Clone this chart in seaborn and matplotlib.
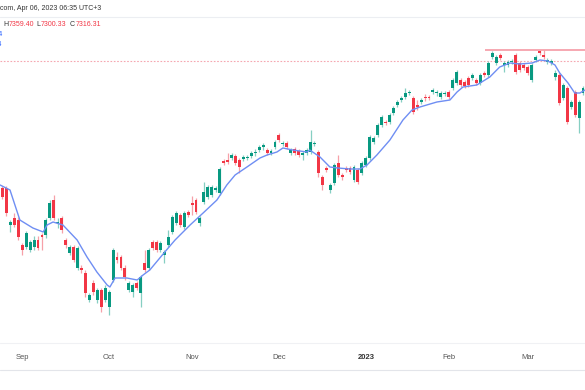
import numpy as np
import pandas as pd
import matplotlib
matplotlib.use('Agg')
import matplotlib.pyplot as plt
from matplotlib.lines import Line2D
import seaborn as sns

# daily candles, Aug 2022 - Mar 2023
opens = [7008, 7008, 6860, 6888, 6880, 6780, 6772, 6760, 6772, 6800,
         6820, 6820, 6888, 6960, 6868, 6888, 6800, 6748, 6772, 6688,
         6688, 6668, 6560, 6628, 6560, 6600, 6560, 6532, 6640, 6732,
         6732, 6688, 6600, 6592, 6628, 6588, 6708, 6688, 6792, 6792,
         6760, 6740, 6780, 6832, 6868, 6900, 6852, 6912, 6948, 6960,
         6868, 6952, 6972, 6980, 7000, 6988, 7116, 7120, 7128, 7136,
         7120, 7124, 7128, 7136, 7148, 7160, 7172, 7160, 7148, 7172,
         7220, 7184, 7188, 7148, 7164, 7156, 7140, 7148, 7152, 7184,
         7152, 7052, 7088, 7000, 7028, 7108, 7060, 7088, 7088, 7040,
         7080, 7068, 7100, 7128, 7192, 7220, 7260, 7272, 7272, 7308,
         7340, 7360, 7372, 7388, 7368, 7340, 7352, 7372, 7372, 7392,
         7388, 7372, 7384, 7392, 7408, 7428, 7440, 7432, 7448, 7448,
         7440, 7428, 7468, 7460, 7532, 7508, 7540, 7500, 7500, 7512,
         7540, 7508, 7500, 7492, 7440, 7520, 7556, 7540, 7512, 7508,
         7452, 7460, 7368, 7408, 7332, 7392, 7288, 7388]
highs = [7016, 7016, 6880, 6908, 6892, 6788, 6836, 6800, 6816, 6816,
         6828, 6888, 6960, 6980, 6888, 6896, 6808, 6780, 6780, 6776,
         6700, 6680, 6588, 6640, 6608, 6608, 6620, 6600, 6768, 6752,
         6740, 6700, 6636, 6628, 6636, 6660, 6760, 6768, 6800, 6800,
         6796, 6760, 6840, 6900, 6916, 6908, 6916, 6920, 6976, 6968,
         6896, 7032, 7020, 7020, 7016, 7092, 7124, 7148, 7148, 7144,
         7128, 7140, 7140, 7156, 7164, 7180, 7188, 7168, 7164, 7200,
         7228, 7196, 7196, 7168, 7172, 7164, 7156, 7168, 7240, 7196,
         7160, 7060, 7096, 7028, 7108, 7140, 7068, 7096, 7096, 7100,
         7088, 7116, 7136, 7220, 7216, 7268, 7300, 7280, 7308, 7336,
         7360, 7376, 7408, 7400, 7376, 7360, 7368, 7384, 7380, 7408,
         7400, 7396, 7396, 7400, 7448, 7480, 7448, 7440, 7456, 7468,
         7448, 7468, 7476, 7516, 7556, 7540, 7548, 7516, 7520, 7524,
         7548, 7516, 7508, 7500, 7508, 7540, 7560, 7560, 7528, 7524,
         7480, 7468, 7428, 7416, 7360, 7400, 7360, 7416]
lows = [6964, 6896, 6832, 6852, 6800, 6740, 6764, 6752, 6760, 6760,
        6760, 6808, 6880, 6880, 6848, 6828, 6768, 6740, 6712, 6680,
        6668, 6572, 6552, 6580, 6548, 6512, 6552, 6500, 6632, 6708,
        6680, 6640, 6592, 6572, 6600, 6532, 6672, 6680, 6760, 6752,
        6752, 6708, 6772, 6824, 6860, 6852, 6844, 6892, 6900, 6904,
        6856, 6944, 6964, 6972, 6992, 6980, 7100, 7104, 7120, 7100,
        7068, 7116, 7120, 7128, 7136, 7152, 7160, 7140, 7140, 7164,
        7192, 7176, 7164, 7140, 7140, 7132, 7120, 7140, 7144, 7176,
        7052, 7000, 7072, 6988, 7020, 7052, 7040, 7072, 7064, 7032,
        7024, 7060, 7092, 7120, 7184, 7212, 7252, 7260, 7264, 7300,
        7332, 7352, 7364, 7380, 7304, 7320, 7344, 7356, 7360, 7384,
        7376, 7364, 7376, 7364, 7400, 7420, 7412, 7408, 7412, 7440,
        7420, 7420, 7452, 7452, 7524, 7500, 7520, 7472, 7492, 7504,
        7464, 7472, 7480, 7460, 7432, 7512, 7540, 7524, 7504, 7500,
        7440, 7340, 7360, 7264, 7324, 7292, 7228, 7380]
closes = [6972, 6908, 6872, 6860, 6812, 6760, 6828, 6792, 6800, 6768,
          6812, 6880, 6948, 6888, 6872, 6840, 6780, 6772, 6720, 6768,
          6680, 6588, 6580, 6592, 6600, 6532, 6608, 6592, 6760, 6720,
          6688, 6652, 6628, 6620, 6608, 6652, 6680, 6760, 6768, 6760,
          6788, 6752, 6812, 6892, 6908, 6860, 6908, 6900, 6940, 6912,
          6888, 6992, 7012, 7012, 7008, 7084, 7108, 7112, 7140, 7108,
          7092, 7132, 7132, 7148, 7152, 7172, 7180, 7148, 7156, 7192,
          7200, 7188, 7172, 7160, 7148, 7140, 7148, 7160, 7192, 7188,
          7068, 7020, 7080, 7020, 7100, 7060, 7052, 7080, 7072, 7092,
          7032, 7108, 7128, 7212, 7208, 7260, 7292, 7268, 7300, 7328,
          7352, 7368, 7388, 7392, 7312, 7332, 7360, 7368, 7368, 7400,
          7392, 7388, 7388, 7372, 7440, 7472, 7420, 7416, 7420, 7460,
          7428, 7460, 7460, 7508, 7548, 7532, 7528, 7508, 7512, 7516,
          7472, 7480, 7488, 7468, 7500, 7532, 7548, 7532, 7520, 7516,
          7468, 7348, 7420, 7272, 7352, 7300, 7352, 7408]

# moving average overlay (bar position, value)
ma_pos = [-0.6, 1.9, 4.4, 7.7, 10.3, 11.3, 12.8, 15.3, 18.9, 21.4,
          23.9, 26.5, 27.2, 28.5, 31.5, 34.1, 35.6, 37.3, 41.1, 43.7,
          47.5, 50.8, 54.3, 56.8, 58.9, 61.9, 65.2, 67.0, 69.5, 71.0,
          73.5, 77.1, 77.8, 80.4, 82.9, 84.9, 88.0, 90.5, 92.3, 94.8,
          98.1, 101.4, 103.7, 105.7, 110.0, 113.3, 115.1, 116.6, 120.1,
          123.4, 125.9, 128.5, 131.0, 134.1, 136.1, 138.1, 139.9, 141.1,
          143.2, 144.9, 146.2, 147.5]
ma_val = [7020, 7000, 6880, 6848, 6832, 6860, 6872, 6860, 6800, 6732,
          6672, 6620, 6612, 6648, 6648, 6640, 6660, 6680, 6752, 6800,
          6860, 6908, 6960, 7020, 7060, 7092, 7128, 7140, 7152, 7168,
          7160, 7152, 7160, 7132, 7092, 7088, 7084, 7084, 7100, 7140,
          7200, 7280, 7320, 7332, 7352, 7360, 7392, 7412, 7420,
          7452, 7492, 7508, 7504, 7508, 7520, 7516, 7500, 7468,
          7428, 7388, 7388, 7400]

tick_pos = [5, 27, 48, 70, 92, 113, 133]
tick_labels = ['Sep', 'Oct', 'Nov', 'Dec', '2023', 'Feb', 'Mar']

price_line = 7516
resist_level = 7560
resist_start = 122.2

UP = '#089981'
DOWN = '#f23645'
UP_WICK = '#86cfc2'
DOWN_WICK = '#f7a0a8'
MA_COLOR = '#6f8ef3'

sns.set_theme(style='white')
plt.rcParams['font.family'] = ['Liberation Sans', 'DejaVu Sans']

df = pd.DataFrame({'open': opens, 'high': highs, 'low': lows, 'close': closes})
df['idx'] = np.arange(len(df))
df['up'] = df['close'] >= df['open']
df['bottom'] = df[['open', 'close']].min(axis=1)
df['height'] = (df['close'] - df['open']).abs().clip(lower=4)

W, H = 585, 390
fig = plt.figure(figsize=(W / 100, H / 100), dpi=100)
fig.patch.set_facecolor('white')
ax = fig.add_axes([0, 47 / H, 1, (343 - 17) / H])

ax.vlines(df['idx'], df['low'], df['high'],
          colors=np.where(df['up'], UP_WICK, DOWN_WICK), linewidth=0.9, zorder=2)
ax.bar(df['idx'], df['height'], bottom=df['bottom'], width=0.74,
       color=np.where(df['up'], UP, DOWN), linewidth=0, zorder=3)

sns.lineplot(x=ma_pos, y=ma_val, ax=ax, color=MA_COLOR, linewidth=1.0,
             estimator=None, zorder=4)

ax.axhline(price_line, color='#f5a7b0', linewidth=0.8, linestyle=(0, (1.5, 1.5)), zorder=1)
ax.hlines(resist_level, resist_start, 150, color='#f599a4', linewidth=1.2, zorder=1)

ax.set_xlim(-0.63, 147.5)
ax.set_ylim(6388, 7692)
ax.set_yticks([])
ax.set_xticks(tick_pos, tick_labels)
ax.tick_params(axis='x', length=0, pad=8, labelsize=5.5, labelcolor='#555555')
for lbl in ax.get_xticklabels():
    if lbl.get_text() == '2023':
        lbl.set_fontweight('bold')
        lbl.set_color('#333333')
for s in ax.spines.values():
    s.set_visible(False)

# frame lines of the screenshot
fig.add_artist(Line2D([0, 1], [1 - 16.5 / H, 1 - 16.5 / H], color='#eceef2', linewidth=0.8))
fig.add_artist(Line2D([0, 1], [1 - 343 / H, 1 - 343 / H], color='#f0f1f4', linewidth=0.8))
fig.add_artist(Line2D([0, 1], [1 - 370 / H, 1 - 370 / H], color='#e3e5ea', linewidth=0.8))

# header texts (the legend values on the left are cut off by the crop)
fig.text(0, 1 - 9 / H, 'com, Apr 06, 2023 06:35 UTC+3', fontsize=5, color='#333333', va='center')
parts = [('H', 3, '#333333'), ('7359.40', 8.8, DOWN), ('L', 36, '#333333'),
         ('7300.33', 41, DOWN), ('C', 69.5, '#333333'), ('7316.31', 75.5, DOWN)]
for txt, px, col in parts:
    fig.text(px / W, 1 - 25 / H, txt, fontsize=5, color=col, va='center')
fig.text(2.5 / W, 1 - 35 / H, '7447.84', fontsize=5, color='#2962ff', va='center', ha='right')
fig.text(2.5 / W, 1 - 44 / H, '7412.64', fontsize=5, color='#2962ff', va='center', ha='right')

fig.savefig('out.png', dpi=100, facecolor='white')
